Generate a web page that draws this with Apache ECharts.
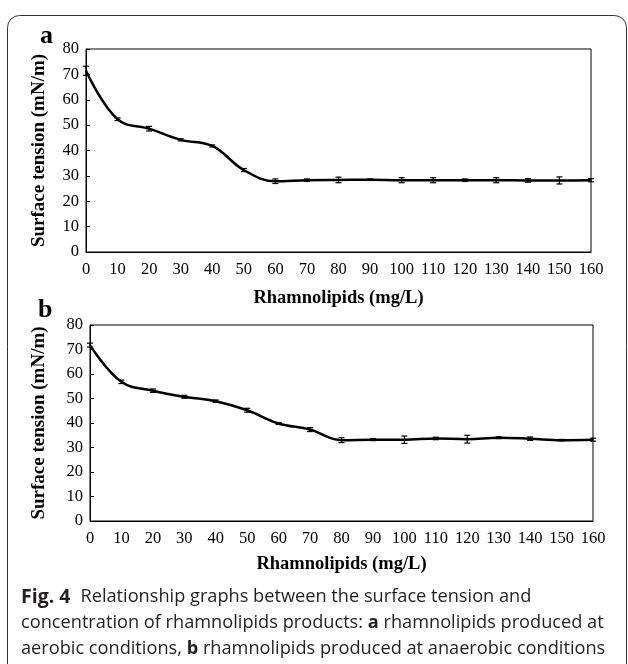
<!DOCTYPE html>
<html><head><meta charset="utf-8">
<script src="https://cdn.jsdelivr.net/npm/echarts@6/dist/echarts.min.js"></script>
<style>html,body{margin:0;padding:0;background:#fff;}#c{width:628px;height:664px;}</style>
</head><body><div id="c"></div>
<script>
var concentrations = [0,10,20,30,40,50,60,70,80,90,100,110,120,130,140,150,160];
var aerobicTension = [71.4,52.3,48.6,44.2,41.8,32.3,27.9,28.3,28.4,28.5,28.3,28.3,28.3,28.3,28.2,28.2,28.3];
var aerobicError   = [1.8,0.5,0.9,0.4,0.4,0.6,0.9,0.5,1.1,0.3,1.0,1.0,0.5,1.0,0.7,1.4,0.6];
var anaerobicTension = [71.8,56.8,53.2,50.7,48.9,45.2,39.8,37.3,33.0,33.2,33.2,33.7,33.4,34.0,33.6,33.0,33.2];
var anaerobicError   = [0.8,0.7,0.7,0.6,0.5,0.8,0.4,0.8,1.0,0.4,1.5,0.5,1.6,0.4,0.7,0.3,0.6];
var yTicks = [0,10,20,30,40,50,60,70,80];
var xTitle = 'Rhamnolipids (mg/L)';
var yTitle = 'Surface tension (mN/m)';

var serif = 'Liberation Serif';
function pairs(xs, ys){ return xs.map(function(x,i){return [x, ys[i]];}); }
function errs(xs, ys, es){ return xs.map(function(x,i){return [x, ys[i]-es[i], ys[i]+es[i]];}); }

function errRender(params, api){
  var x = api.value(0);
  var lo = api.coord([x, api.value(1)]);
  var hi = api.coord([x, api.value(2)]);
  var w = 3;
  var st = {stroke:'#000', lineWidth:1.2};
  return {type:'group', children:[
    {type:'line', shape:{x1:lo[0],y1:lo[1],x2:hi[0],y2:hi[1]}, style:st},
    {type:'line', shape:{x1:lo[0]-w,y1:lo[1],x2:lo[0]+w,y2:lo[1]}, style:st},
    {type:'line', shape:{x1:hi[0]-w,y1:hi[1],x2:hi[0]+w,y2:hi[1]}, style:st}
  ]};
}

function xAxis(gi, gap){
  return {gridIndex:gi, type:'value', min:0, max:160, interval:10,
    name:xTitle, nameLocation:'middle', nameGap:gap,
    nameTextStyle:{fontFamily:serif, fontWeight:'bold', fontSize:18.5, color:'#000'},
    axisLine:{lineStyle:{color:'#000', width:1}}, axisTick:{show:false},
    axisLabel:{fontFamily:serif, fontSize:16.5, color:'#000', margin:9},
    splitLine:{show:false}};
}
function yAxis(gi, gap){
  return {gridIndex:gi, type:'value', min:yTicks[0], max:yTicks[yTicks.length-1], interval:10,
    name:yTitle, nameLocation:'middle', nameGap:gap, nameRotate:90,
    nameTextStyle:{fontFamily:serif, fontWeight:'bold', fontSize:19, color:'#000'},
    axisLine:{lineStyle:{color:'#000', width:1}},
    axisTick:{show:true, inside:true, length:4, lineStyle:{color:'#000'}},
    axisLabel:{fontFamily:serif, fontSize:16.5, color:'#000', margin:7},
    splitLine:{show:false}};
}

var chart = echarts.init(document.getElementById('c'), null, {renderer:'canvas'});
chart.setOption({
  animation:false,
  backgroundColor:'#fff',
  grid:[
    {left:86, top:49, width:505, height:203, show:true, borderColor:'#000', borderWidth:1, backgroundColor:'transparent'},
    {left:90, top:325, width:503, height:196, show:true, borderColor:'#000', borderWidth:1, backgroundColor:'transparent'}
  ],
  xAxis:[xAxis(0,37), xAxis(1,34)],
  yAxis:[yAxis(0,37), yAxis(1,41)],
  series:[
    {type:'line', xAxisIndex:0, yAxisIndex:0, data:pairs(concentrations, aerobicTension), smooth:0.4, showSymbol:false, lineStyle:{color:'#000', width:2.5}, z:3},
    {type:'custom', xAxisIndex:0, yAxisIndex:0, data:errs(concentrations, aerobicTension, aerobicError), renderItem:errRender, z:4},
    {type:'line', xAxisIndex:1, yAxisIndex:1, data:pairs(concentrations, anaerobicTension), smooth:0.4, showSymbol:false, lineStyle:{color:'#000', width:2.5}, z:3},
    {type:'custom', xAxisIndex:1, yAxisIndex:1, data:errs(concentrations, anaerobicTension, anaerobicError), renderItem:errRender, z:4}
  ],
  graphic:[
    {type:'rect', shape:{x:7.5, y:15.5, width:619, height:720, r:12}, style:{fill:'none', stroke:'#333', lineWidth:1}, z:0},
    {type:'text', left:40, top:23, style:{text:'a', font:'bold 26px "Liberation Serif"', fill:'#000'}},
    {type:'text', left:38, top:297, style:{text:'b', font:'bold 26px "Liberation Serif"', fill:'#000'}},
    {type:'text', left:21, top:584, style:{
      text:'{f|Fig. 4}Relationship graphs between the surface tension and\nconcentration of rhamnolipids products: {b|a} rhamnolipids produced at\naerobic conditions, {b|b} rhamnolipids produced at anaerobic conditions',
      fontFamily:'Open Sans', fontSize:18.2, lineHeight:26, fill:'#231f20',
      rich:{
        f:{fontFamily:'Open Sans', fontWeight:'bold', fontSize:19.5, lineHeight:26, fill:'#231f20', padding:[0,10,0,0]},
        b:{fontFamily:'Open Sans', fontWeight:'bold', fontSize:18.2, lineHeight:26, fill:'#231f20'}
      }
    }}
  ]
});
</script></body></html>
